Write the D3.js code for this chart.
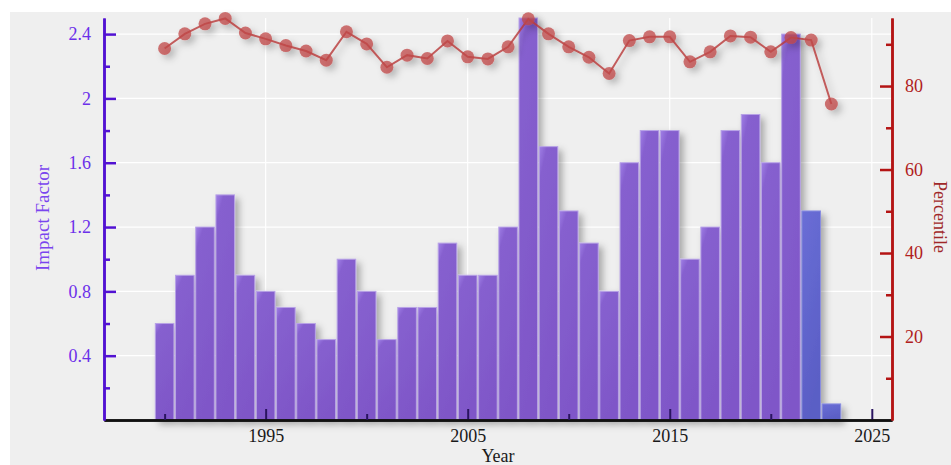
<!DOCTYPE html>
<html>
<head>
<meta charset="utf-8">
<script src="https://cdn.jsdelivr.net/npm/d3@7"></script>
<style>
  body { margin: 0; background: #ffffff; }
  svg { display: block; font-family: "Liberation Serif", "DejaVu Serif", serif; }
</style>
</head>
<body>
<svg id="chart"></svg>
<script>
// data
const years = [1990, 1991, 1992, 1993, 1994, 1995, 1996, 1997, 1998, 1999,
               2000, 2001, 2002, 2003, 2004, 2005, 2006, 2007, 2008, 2009,
               2010, 2011, 2012, 2013, 2014, 2015, 2016, 2017, 2018, 2019,
               2020, 2021, 2022, 2023];
const impactFactor = [0.6, 0.9, 1.2, 1.4, 0.9, 0.8, 0.7, 0.6, 0.5, 1.0,
                      0.8, 0.5, 0.7, 0.7, 1.1, 0.9, 0.9, 1.2, 2.5, 1.7,
                      1.3, 1.1, 0.8, 1.6, 1.8, 1.8, 1.0, 1.2, 1.8, 1.9,
                      1.6, 2.4, 1.3, 0.1];
const percentile = [89.0, 92.5, 94.9, 96.2, 92.7, 91.3, 89.7, 88.4, 86.2, 93.0,
                    90.1, 84.5, 87.4, 86.6, 90.8, 87.0, 86.5, 89.4, 96.1, 92.5,
                    89.4, 86.9, 83.0, 90.9, 91.8, 91.8, 85.8, 88.2, 92.0, 91.7,
                    88.2, 91.6, 91.0, 75.7];
const provisionalYears = [2022, 2023];
const ifTicks = [0.4, 0.8, 1.2, 1.6, 2.0, 2.4];
const ifMinorTicks = [0.2, 0.6, 1.0, 1.4, 1.8, 2.2];
const pctTicks = [20, 40, 60, 80];
const pctMinorTicks = [10, 30, 50, 70, 90];
const yearTicks = [1995, 2005, 2015, 2025];
const yearMinorTicks = [1990, 2000, 2010, 2020];

const W = 951, H = 465;
const margin = {top: 18, right: 59, bottom: 45, left: 104};
const innerW = W - margin.left - margin.right;
const innerH = H - margin.top - margin.bottom;

const svg = d3.select('#chart').attr('width', W).attr('height', H);

// defs: shadow + bar gradients
const defs = svg.append('defs');
const shadow = defs.append('filter').attr('id', 'shadow')
    .attr('x', '-20%').attr('y', '-20%').attr('width', '160%').attr('height', '160%');
shadow.append('feDropShadow')
    .attr('dx', 4).attr('dy', 4).attr('stdDeviation', 3.5)
    .attr('flood-color', '#000').attr('flood-opacity', 0.3);

const grad = defs.append('linearGradient').attr('id', 'barGrad')
    .attr('x1', '0%').attr('y1', '0%').attr('x2', '30%').attr('y2', '100%');
grad.append('stop').attr('offset', '0%').attr('stop-color', '#a07fe6');
grad.append('stop').attr('offset', '12%').attr('stop-color', '#8660cf');
grad.append('stop').attr('offset', '100%').attr('stop-color', '#7f57c8');

const grad2 = defs.append('linearGradient').attr('id', 'barGrad2')
    .attr('x1', '0%').attr('y1', '0%').attr('x2', '30%').attr('y2', '100%');
grad2.append('stop').attr('offset', '0%').attr('stop-color', '#6a6ed6');
grad2.append('stop').attr('offset', '100%').attr('stop-color', '#5a5ec5');

// panel background
svg.append('rect')
    .attr('x', 10).attr('y', 12)
    .attr('width', W - 10).attr('height', H - 12)
    .attr('fill', '#efefef');

const chart = svg.append('g')
    .attr('transform', `translate(${margin.left}, ${margin.top})`);

// scales
const xscale = d3.scaleLinear().domain([1987, 2026]).range([0, innerW]);
const yscale = d3.scaleLinear().domain([0, 2.5]).range([innerH, 0]);
const pscale = d3.scaleLinear().domain([0, 96.3]).range([innerH, 0]);

// grid
chart.append('g').selectAll('line.h')
    .data(ifTicks).enter().append('line')
    .attr('x1', 0).attr('x2', innerW)
    .attr('y1', d => yscale(d)).attr('y2', d => yscale(d))
    .attr('stroke', '#ffffff').attr('stroke-width', 1.2);
chart.append('g').selectAll('line.v')
    .data(yearTicks).enter().append('line')
    .attr('x1', d => xscale(d)).attr('x2', d => xscale(d))
    .attr('y1', 0).attr('y2', innerH)
    .attr('stroke', '#ffffff').attr('stroke-width', 1.2);

// bars
const barW = (xscale(1) - xscale(0)) * 0.92;
chart.append('g').attr('filter', 'url(#shadow)')
    .selectAll('rect')
    .data(years.map((y, i) => ({year: y, v: impactFactor[i]})))
    .enter().append('rect')
    .attr('x', d => xscale(d.year) - barW / 2)
    .attr('y', d => yscale(d.v))
    .attr('width', barW)
    .attr('height', d => innerH - yscale(d.v))
    .attr('fill', d => provisionalYears.includes(d.year) ? 'url(#barGrad2)' : 'url(#barGrad)')
    .attr('stroke', d => provisionalYears.includes(d.year) ? '#8a8ee0' : '#b7a2e6')
    .attr('stroke-width', 1);

// axes
const axisLeftMajor = d3.axisLeft(yscale).tickValues(ifTicks)
    .tickSizeInner(-12).tickSizeOuter(0).tickPadding(13).tickFormat(d3.format('~g'));
const axisLeftMinor = d3.axisLeft(yscale).tickValues(ifMinorTicks)
    .tickSizeInner(-6).tickSizeOuter(0).tickFormat('');

const axisRightMajor = d3.axisRight(pscale).tickValues(pctTicks)
    .tickSizeInner(-12).tickSizeOuter(0).tickPadding(13);
const axisRightMinor = d3.axisRight(pscale).tickValues(pctMinorTicks)
    .tickSizeInner(-6).tickSizeOuter(0).tickFormat('');

const axisBottomMajor = d3.axisBottom(xscale).tickValues(yearTicks)
    .tickSizeInner(-11).tickSizeOuter(0).tickPadding(9).tickFormat(d3.format('d'));
const axisBottomMinor = d3.axisBottom(xscale).tickValues(yearMinorTicks)
    .tickSizeInner(-6).tickSizeOuter(0).tickFormat('');

function styleAxis(g, lineColor, textColor) {
    g.selectAll('path').attr('stroke', lineColor).attr('stroke-width', 2.5);
    g.selectAll('line').attr('stroke', lineColor).attr('stroke-width', 2.5);
    g.selectAll('text').attr('fill', textColor)
        .style('font-size', '18px')
        .style('font-family', '"Liberation Serif", "DejaVu Serif", serif');
}

const xg1 = chart.append('g').attr('transform', `translate(0, ${innerH})`).call(axisBottomMajor);
const xg2 = chart.append('g').attr('transform', `translate(0, ${innerH})`).call(axisBottomMinor);
styleAxis(xg1, '#111111', '#1a1a1a');
styleAxis(xg2, '#111111', '#1a1a1a');
xg1.selectAll('.tick line').attr('stroke', '#2a1460').attr('stroke-width', 2);
xg2.selectAll('.tick line').attr('stroke', '#2a1460').attr('stroke-width', 2);

const lg1 = chart.append('g').call(axisLeftMajor);
const lg2 = chart.append('g').call(axisLeftMinor);
styleAxis(lg1, '#5212d2', '#6c30ea');
styleAxis(lg2, '#5212d2', '#6c30ea');

const rg1 = chart.append('g').attr('transform', `translate(${innerW}, 0)`).call(axisRightMajor);
const rg2 = chart.append('g').attr('transform', `translate(${innerW}, 0)`).call(axisRightMinor);
styleAxis(rg1, '#b41414', '#b02020');
styleAxis(rg2, '#b41414', '#b02020');

// percentile line
const pdata = years.map((y, i) => ({year: y, p: percentile[i]}));
const line = d3.line().x(d => xscale(d.year)).y(d => pscale(d.p));
const lineG = chart.append('g').attr('filter', 'url(#shadow)');
lineG.append('path')
    .attr('d', line(pdata))
    .attr('fill', 'none')
    .attr('stroke', '#b83a3a')
    .attr('stroke-opacity', 0.8)
    .attr('stroke-width', 2);
lineG.selectAll('circle')
    .data(pdata).enter().append('circle')
    .attr('cx', d => xscale(d.year))
    .attr('cy', d => pscale(d.p))
    .attr('r', 6.5)
    .attr('fill', '#c04848')
    .attr('fill-opacity', 0.75);

// axis titles
svg.append('text')
    .attr('transform', `translate(49, 218) rotate(-90)`)
    .attr('text-anchor', 'middle')
    .attr('fill', '#7a45ee')
    .style('font-size', '19px')
    .text('Impact Factor');

svg.append('text')
    .attr('transform', `translate(934, 217) rotate(90)`)
    .attr('text-anchor', 'middle')
    .attr('fill', '#a02828')
    .style('font-size', '18px')
    .text('Percentile');

svg.append('text')
    .attr('x', 498).attr('y', 462)
    .attr('text-anchor', 'middle')
    .attr('fill', '#1a1a1a')
    .style('font-size', '18px')
    .text('Year');
</script>
</body>
</html>
